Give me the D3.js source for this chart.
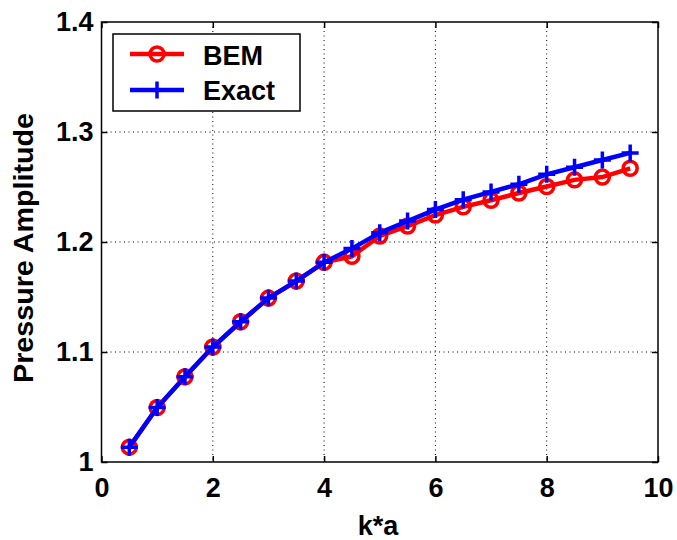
<!DOCTYPE html>
<html><head><meta charset="utf-8">
<script src="https://cdn.jsdelivr.net/npm/d3@7"></script>
<style>body{margin:0;background:#fff;} text{font-family:Arial,"Liberation Sans",sans-serif;font-weight:bold;}</style>
</head><body>
<svg id="c" width="677" height="540"></svg>
<script>
const ka = [0.5,1,1.5,2,2.5,3,3.5,4,4.5,5,5.5,6,6.5,7,7.5,8,8.5,9,9.5];
const bem = [1.0135,1.0495,1.0775,1.1045,1.1275,1.149,1.1645,1.1815,1.187,1.2055,1.2145,1.2245,1.232,1.238,1.2445,1.2505,1.2565,1.259,1.267];
const exact = [1.0135,1.0495,1.0775,1.1045,1.1275,1.149,1.1645,1.1815,1.194,1.2085,1.219,1.2295,1.2385,1.2455,1.2525,1.2615,1.268,1.2745,1.281];
const xTicks = [0,2,4,6,8,10];
const yTicks = [1,1.1,1.2,1.3,1.4];
const yTickLabels = ["1","1.1","1.2","1.3","1.4"];
const seriesNames = ["BEM","Exact"];

const FS = 27;
const svg = d3.select("#c");
const L=101.5,R=658,T=22,B=462;
const x = d3.scaleLinear().domain([0,10]).range([L,R]);
const y = d3.scaleLinear().domain([1,1.4]).range([B,T]);

// grid
const g = svg.append("g");
g.selectAll(".gx").data(xTicks.slice(1,-1)).enter().append("line")
  .attr("x1",d=>x(d)).attr("x2",d=>x(d)).attr("y1",T).attr("y2",B)
  .attr("stroke","#000").attr("stroke-width",1).attr("stroke-dasharray","1,3.5");
g.selectAll(".gy").data(yTicks.slice(1,-1)).enter().append("line")
  .attr("y1",d=>y(d)).attr("y2",d=>y(d)).attr("x1",L).attr("x2",R)
  .attr("stroke","#000").attr("stroke-width",1).attr("stroke-dasharray","1,3.5");

// axes
const ax = svg.append("g").attr("transform",`translate(0,${B})`)
  .call(d3.axisBottom(x).tickValues(xTicks).tickFormat(d3.format("d")).tickSizeInner(-6).tickSizeOuter(0).tickPadding(16));
const ay = svg.append("g").attr("transform",`translate(${L},0)`)
  .call(d3.axisLeft(y).tickValues(yTicks).tickFormat((d,i)=>yTickLabels[i]).tickSizeInner(-6).tickSizeOuter(0).tickPadding(8));
const axT = svg.append("g").attr("transform",`translate(0,${T})`)
  .call(d3.axisTop(x).tickValues(xTicks).tickFormat("").tickSizeInner(-6).tickSizeOuter(0));
const ayR = svg.append("g").attr("transform",`translate(${R},0)`)
  .call(d3.axisRight(y).tickValues(yTicks).tickFormat("").tickSizeInner(-6).tickSizeOuter(0));
[ax,ay,axT,ayR].forEach(a=>{
  a.selectAll("path.domain").remove();
  a.selectAll(".tick line").attr("stroke","#000").attr("stroke-width",1.5);
  a.selectAll("text").attr("font-size",FS).attr("fill","#000").style("font-family","Arial, 'Liberation Sans', sans-serif").style("font-weight","bold");
});
svg.append("rect").attr("x",L).attr("y",T).attr("width",R-L).attr("height",B-T)
  .attr("fill","none").attr("stroke","#000").attr("stroke-width",1.5);

// series
const line = d3.line().x((d,i)=>x(ka[i])).y(d=>y(d));
svg.append("path").datum(bem).attr("d",line).attr("fill","none").attr("stroke","#ff0000").attr("stroke-width",4.5);
svg.selectAll(".cb").data(bem).enter().append("circle")
  .attr("cx",(d,i)=>x(ka[i])).attr("cy",d=>y(d)).attr("r",7)
  .attr("fill","none").attr("stroke","#ff0000").attr("stroke-width",3.5);
svg.append("path").datum(exact).attr("d",line).attr("fill","none").attr("stroke","#0000ff").attr("stroke-width",4.5);
const pl = 8.5;
svg.selectAll(".pe").data(exact).enter().append("path")
  .attr("d",(d,i)=>{const cx=x(ka[i]),cy=y(d);return `M${cx-pl},${cy}H${cx+pl}M${cx},${cy-pl}V${cy+pl}`;})
  .attr("stroke","#0000ff").attr("stroke-width",3.5).attr("fill","none");

// labels
svg.append("text").attr("x",378).attr("y",535).attr("text-anchor","middle").attr("font-size",FS).text("k*a");
svg.append("text").attr("transform",`translate(33,248) rotate(-90)`).attr("text-anchor","middle").attr("font-size",FS)
  .attr("textLength",270).attr("lengthAdjust","spacingAndGlyphs").text("Pressure Amplitude");

// legend
const lg = svg.append("g");
lg.append("rect").attr("x",113).attr("y",34).attr("width",187).attr("height",77).attr("fill","#fff").attr("stroke","#000").attr("stroke-width",1.5);
const rows=[{n:seriesNames[0],c:"#ff0000",m:"o",yy:54,by:65},{n:seriesNames[1],c:"#0000ff",m:"+",yy:90,by:100}];
rows.forEach(r=>{
  lg.append("line").attr("x1",130).attr("x2",184).attr("y1",r.yy).attr("y2",r.yy).attr("stroke",r.c).attr("stroke-width",4.5);
  if(r.m==="o") lg.append("circle").attr("cx",157).attr("cy",r.yy).attr("r",7).attr("fill","none").attr("stroke",r.c).attr("stroke-width",3.5);
  else lg.append("path").attr("d",`M${157-pl},${r.yy}H${157+pl}M157,${r.yy-pl}V${r.yy+pl}`).attr("stroke",r.c).attr("stroke-width",3.5);
  lg.append("text").attr("x",203).attr("y",r.by).attr("font-size",FS).text(r.n);
});
</script>
</body></html>
